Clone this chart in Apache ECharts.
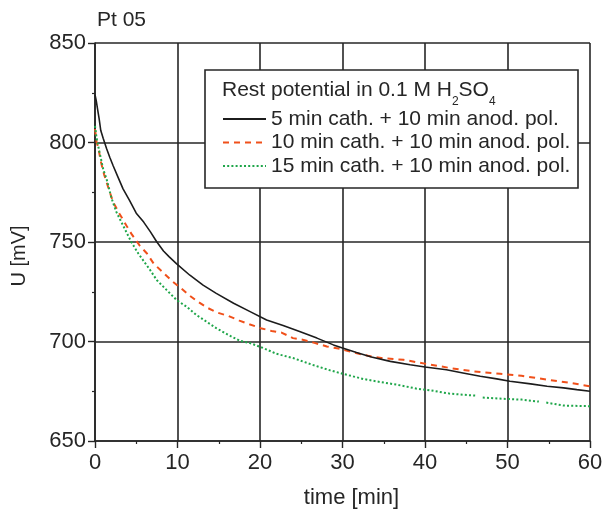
<!DOCTYPE html>
<html><head><meta charset="utf-8">
<script src="https://cdn.jsdelivr.net/npm/echarts@6/dist/echarts.min.js"></script>
<style>html,body{margin:0;padding:0;background:#fff}#c{width:608px;height:514px}</style>
</head><body><div id="c"></div>
<script>
const FONT = "'Liberation Sans', Arial, Helvetica, sans-serif";
const INK = '#262626';

const chartTitle = 'Pt 05';
const xAxisTitle = 'time [min]';
const yAxisTitle = 'U [mV]';
const legendHeading = '{a|Rest potential in 0.1 M H}{s|2}{a|SO}{s|4}';
const seriesNames = [
  '5 min cath. + 10 min anod. pol.',
  '10 min cath. + 10 min anod. pol.',
  '15 min cath. + 10 min anod. pol.'
];
const xTicks = [0, 10, 20, 30, 40, 50, 60];
const yTicks = [650, 700, 750, 800, 850];

// 5 min cath. (black, solid)
const time5 = [0, 0.15, 0.3, 0.5, 0.7, 1.0, 1.4, 1.8, 2.2, 2.8, 3.4, 4.2, 5.0, 5.9, 6.7, 7.5, 8.3, 9.0, 9.9,
  11.5, 13.1, 14.7, 16.8, 18.8, 20.8, 22.8, 24.8, 26.9, 28.9, 30, 31.7, 33.5, 35.8, 38.2, 40, 42.6, 44.6,
  46.7, 48.7, 50.3, 52.8, 54.8, 56.8, 58.4, 60];
const u5 = [824, 821, 817, 812, 806, 802, 797, 792.5, 788.3, 782.5, 776.7, 770.8, 764.5, 760, 755.2, 750, 745.5, 742.5, 739,
  733.3, 728.3, 724.2, 719.2, 715, 710.8, 708, 705, 701.7, 698.3, 696.7, 694.5, 692.2, 690, 688.3, 687.2, 685.8, 684.2,
  682.5, 681.2, 680, 678.7, 677.5, 676.7, 675.8, 675];

// 10 min cath. (red, dashed)
const time10 = [0, 0.2, 0.4, 0.7, 1.1, 1.6, 2.2, 3.0, 3.8, 4.4, 5.4, 6.3, 7.1, 8.3, 9.3, 10.3, 11.4, 12.3, 13.5, 14.7,
  16.2, 17.5, 18.7, 20.1, 21.4, 22.6, 24.0, 25.3, 26.7, 28.1, 29.5, 31.3, 33.1, 34.7, 37.4, 40.2, 43.0, 45.8,
  49.1, 51.7, 54.8, 57.6, 60];
const u10 = [806.7, 800, 797.5, 790.5, 784, 777.5, 770, 764, 758.3, 754.2, 748.3, 744.2, 739.2, 734.5, 730.5, 727.2, 723.3, 720.5, 717.2, 714.7,
  712.8, 710.5, 708.7, 706.7, 705.3, 704.5, 701.7, 700.8, 699.2, 697.5, 696.5, 694.5, 692.8, 691.7, 690.8, 688.7, 686.7, 685,
  683.8, 682.8, 680.8, 679.2, 677.5];

// 15 min cath. (green, dotted); null = gap in the trace
const time15 = [0, 0.2, 0.5, 1.0, 1.4, 2.0, 2.6, 3.2, 3.8, 4.4, 5.25, 6.7, 7.5, 8.7, 9.9, 11.1, 12.3, 13.5, 14.7,
  16.4, 17.6, 18.8, 20.4, 22.0, 24.0, 26.2, 28.5, 30.1, 32.5, 34.5, 36.6, 39, 40.6, 43.0, 46.1, 46.5, 47.0,
  49.5, 51.7, 53.8, 54.2, 54.7, 56.8, 60];
const u15 = [808.3, 802, 796, 786.5, 781.7, 772, 765, 760, 755, 750, 744.2, 735.8, 730.8, 725.8, 720.8, 717.5, 713.3, 710, 706.7,
  702.8, 700.3, 699.2, 696.7, 693.8, 691.7, 688.5, 685.5, 683.7, 681.2, 679.7, 678.3, 676.3, 675.5, 673.8, 672.8, null, 671.8,
  671.2, 670.8, 669.8, null, 669.3, 667.8, 667.5];

const colors = ['#1c1c1c', '#f0501a', '#1fa64a'];

function pairs(t, v) { return t.map((x, i) => [x, v[i] === null ? '-' : v[i]]); }

const chart = echarts.init(document.getElementById('c'), null, { renderer: 'canvas' });

const axisCommon = {
  axisLine: { show: true, lineStyle: { color: INK, width: 1.6 } },
  axisTick: { show: true, length: 7, lineStyle: { color: INK, width: 1.4 } },
  minorTick: { show: true, splitNumber: 2, length: 3, lineStyle: { color: INK, width: 1.2 } },
  splitLine: { show: true, lineStyle: { color: INK, width: 1.6 } },
  minorSplitLine: { show: false }
};

chart.setOption({
  animation: false,
  backgroundColor: '#fff',
  textStyle: { fontFamily: FONT },
  title: [
    { text: chartTitle, left: 97, top: 10, padding: 0,
      textStyle: { fontSize: 21, fontWeight: 'normal', color: INK, fontFamily: FONT } },
    { text: legendHeading, left: 222, top: 80, padding: 0, z: 30,
      textStyle: { fontFamily: FONT, fontWeight: 'normal', rich: {
        a: { fontSize: 21, lineHeight: 21, color: INK, fontWeight: 'normal', verticalAlign: 'top', fontFamily: FONT },
        s: { fontSize: 12, lineHeight: 12, color: INK, fontWeight: 'normal', verticalAlign: 'top', padding: [16, 0, 0, 0], fontFamily: FONT }
      } } }
  ],
  graphic: [
    { type: 'rect', z: 10, shape: { x: 205, y: 70, width: 373, height: 118 },
      style: { fill: '#fff', stroke: INK, lineWidth: 1.6 } }
  ],
  legend: {
    data: seriesNames, orient: 'vertical', left: 222, top: 108, padding: 0,
    itemWidth: 43, itemHeight: 14, itemGap: 1.5, z: 30, selectedMode: false,
    itemStyle: { opacity: 0, borderWidth: 0 },
    textStyle: { fontSize: 21, color: INK, fontFamily: FONT, lineHeight: 22 }
  },
  grid: { left: 95, right: 18, top: 43, bottom: 72, show: false },
  xAxis: Object.assign({
    type: 'value', min: xTicks[0], max: xTicks[xTicks.length - 1], interval: xTicks[1] - xTicks[0],
    name: xAxisTitle, nameLocation: 'middle', nameGap: 46,
    nameTextStyle: { fontSize: 22, color: INK, fontFamily: FONT, padding: [0, 0, 0, 18] },
    axisLabel: { fontSize: 22, color: INK, margin: 11, fontFamily: FONT }
  }, axisCommon),
  yAxis: Object.assign({
    type: 'value', min: yTicks[0], max: yTicks[yTicks.length - 1], interval: yTicks[1] - yTicks[0],
    name: yAxisTitle, nameLocation: 'middle', nameGap: 66,
    nameTextStyle: { fontSize: 20, color: INK, fontFamily: FONT, padding: [0, 28, 0, 0] },
    axisLabel: { fontSize: 22, color: INK, margin: 9, fontFamily: FONT }
  }, axisCommon),
  series: [
    { name: seriesNames[0], type: 'line', data: pairs(time5, u5), symbol: 'none', showSymbol: false,
      lineStyle: { color: colors[0], width: 1.6, type: 'solid' }, itemStyle: { color: colors[0] }, z: 3 },
    { name: seriesNames[1], type: 'line', data: pairs(time10, u10), symbol: 'none', showSymbol: false,
      lineStyle: { color: colors[1], width: 2, type: [6, 5] }, itemStyle: { color: colors[1] }, z: 2 },
    { name: seriesNames[2], type: 'line', data: pairs(time15, u15), symbol: 'none', showSymbol: false,
      lineStyle: { color: colors[2], width: 2, type: [2, 2.2] }, itemStyle: { color: colors[2] }, z: 2 }
  ]
});
</script></body></html>
